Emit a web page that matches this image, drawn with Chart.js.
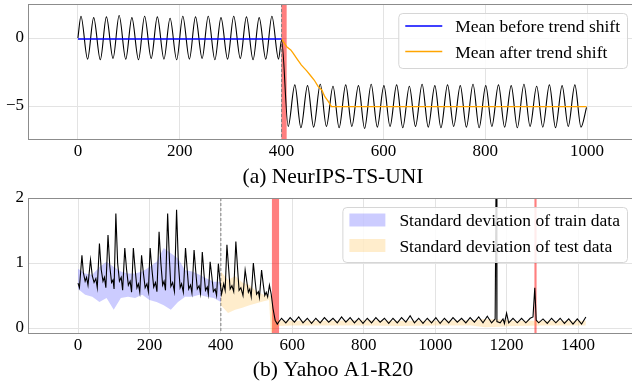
<!DOCTYPE html>
<html>
<head>
<meta charset="utf-8">
<script src="https://cdn.jsdelivr.net/npm/chart.js@4.4.0/dist/chart.umd.min.js"></script>
<style>
  body { margin: 0; background: #fff; width: 632px; height: 391px; overflow: hidden; position: relative; }
  canvas { position: absolute; left: 0; }
  #chartA { top: 0; }
  #chartB { top: 180px; }
</style>
</head>
<body>
<canvas id="chartA" width="640" height="195"></canvas>
<canvas id="chartB" width="640" height="211"></canvas>
<script>
// ---- (a) NeurIPS-TS-UNI ----
const xTicksA = [0, 200, 400, 600, 800, 1000];
const yTicksA = [-5, 0];
const timeA = [0, 6, 19, 31, 44, 56, 69, 81, 94, 106, 119, 131, 144, 156, 169, 181, 194, 206, 219, 231, 244, 256, 269, 281, 294, 306, 319, 331, 344, 356, 369, 381, 394, 400,
  413, 426, 438, 451, 463, 476, 488, 501, 513, 526, 538, 551, 563, 576, 588, 601, 613, 626, 638, 651, 663, 676, 688, 701, 713, 726, 738, 751,
  763, 776, 788, 801, 813, 826, 838, 851, 863, 876, 888, 901, 913, 926, 938, 951, 963, 976, 988, 999];
const valueA = [0, 1.6, -1.55, 1.5, -1.6, 1.55, -1.5, 1.65, -1.55, 1.5, -1.6, 1.6, -1.5, 1.55, -1.55, 1.45, -1.6,
  1.6, -1.55, 1.55, -1.5, 1.6, -1.6, 1.5, -1.55, 1.6, -1.5, 1.55, -1.6, 1.5, -1.55, 1.6, -1.55, -0.15,
  -6.5, -3.45, -6.6, -3.5, -6.55, -3.4, -6.5, -3.55, -6.6, -3.45, -6.5, -3.5, -6.65, -3.4, -6.55, -3.5,
  -6.5, -3.45, -6.6, -3.55, -6.5, -3.4, -6.55, -3.5, -6.6, -3.45, -6.5, -3.5, -6.55, -3.4, -6.6, -3.5,
  -6.5, -3.45, -6.55, -3.5, -6.6, -3.4, -6.5, -3.55, -6.55, -3.45, -6.6, -3.5, -6.5, -3.45, -6.55, -5.1];
const meanBeforeTime = [0, 400];
const meanBeforeValue = [-0.07, -0.07];
const meanAfterTime = [400, 410, 418, 423, 431, 439, 449, 456, 464, 472, 479, 485, 492, 498, 999];
const meanAfterValue = [-0.07, -0.64, -0.88, -1.13, -1.57, -1.99, -2.4, -2.72, -3.09, -3.58, -3.82, -4.32, -4.68, -5.05, -5.05];
const anomalyA = [[400, 410]];
const splitA = 400;

// ---- (b) Yahoo A1-R20 ----
const xTicksB = [0, 200, 400, 600, 800, 1000, 1200, 1400];
const yTicksB = [0, 1, 2];
const yahooSeries = [
  [0,0.69],[4,0.62],[11,1.12],[15,0.85],[20,0.72],[24,0.78],[28,0.66],[35,1.05],[40,0.8],[45,0.7],[50,0.76],[54,0.62],
  [60,1.3],[65,0.9],[70,0.72],[74,0.78],[78,0.62],[84,1.43],[89,0.95],[94,0.7],[98,0.74],[101,0.6],[106,1.76],[111,1.0],
  [116,0.72],[121,0.78],[125,0.58],[131,1.23],[136,0.9],[141,0.66],[146,0.72],[150,0.55],[155,1.23],[160,0.9],[165,0.62],
  [169,0.68],[173,0.55],[178,1.12],[183,0.85],[188,0.62],[193,0.68],[197,0.56],[202,1.23],[207,0.9],[212,0.63],[217,0.7],
  [221,0.56],[227,1.48],[232,1.0],[237,0.66],[241,0.72],[245,0.58],[251,1.76],[256,1.05],[260,0.64],[265,0.7],[270,0.56],
  [276,1.82],[281,1.0],[286,0.62],[290,0.68],[295,0.55],[301,1.23],[306,0.88],[310,0.6],[315,0.66],[319,0.54],[325,1.2],
  [330,0.85],[334,0.6],[339,0.65],[343,0.53],[348,1.17],[353,0.82],[357,0.58],[362,0.63],[365,0.52],[370,1.02],[375,0.78],
  [379,0.56],[384,0.6],[388,0.5],[393,0.99],[398,0.7],[402,0.52],[408,0.68],[412,0.58],[417,1.28],[422,0.9],[426,0.6],
  [431,0.65],[436,0.56],[442,1.33],[447,0.9],[451,0.58],[456,0.62],[462,0.5],[468,0.89],[473,0.7],[477,0.55],[481,0.6],
  [485,0.48],[491,1.0],[496,0.72],[500,0.52],[505,0.56],[508,0.47],[514,0.89],[519,0.66],[523,0.5],[527,0.55],[531,0.48],
  [536,0.66],[541,0.52],[546,0.3],[552,0.12],[558,0.06],[563,0.1],
  [570,0.15],[582,0.08],[594,0.16],[606,0.09],[618,0.17],[630,0.08],[642,0.15],[654,0.07],[666,0.15],[678,0.08],
  [690,0.16],[702,0.09],[714,0.15],[726,0.08],[738,0.17],[750,0.09],[762,0.16],[774,0.08],[786,0.15],[798,0.07],
  [810,0.15],[822,0.08],[834,0.16],[846,0.09],[858,0.15],[870,0.07],[882,0.15],[894,0.08],[906,0.16],[918,0.09],
  [930,0.19],[942,0.08],[954,0.15],[966,0.07],[978,0.15],[990,0.08],[1002,0.16],[1014,0.07],[1026,0.15],[1038,0.08],
  [1050,0.16],[1062,0.09],[1074,0.15],[1086,0.08],[1098,0.16],[1110,0.09],[1122,0.17],[1134,0.08],[1146,0.18],[1158,0.08],
  [1168,0.14],[1171,2.6],[1173,0.1],[1182,0.08],[1190,0.14],[1194,0.07],[1200,0.23],[1206,0.08],[1218,0.15],[1230,0.08],
  [1242,0.15],[1254,0.08],[1266,0.15],[1274,0.17],[1279,0.62],[1283,0.12],[1290,0.08],[1302,0.14],[1314,0.07],[1326,0.15],
  [1338,0.08],[1350,0.15],[1362,0.07],[1374,0.14],[1386,0.06],[1398,0.14],[1410,0.06],[1422,0.17]
];
const trainTime = [0, 20, 40, 60, 80, 100, 120, 140, 160, 180, 200, 220, 240, 260, 280, 300, 320, 340, 360, 380, 400];
const trainUpper = [0.91, 0.84, 0.82, 0.94, 1.02, 0.94, 0.87, 0.84, 0.84, 0.87, 0.94, 1.02, 1.23, 1.15, 1.07, 0.89, 0.87, 0.82, 0.76, 0.71, 0.71];
const trainLower = [0.6, 0.51, 0.48, 0.4, 0.46, 0.28, 0.46, 0.48, 0.46, 0.51, 0.43, 0.4, 0.35, 0.28, 0.4, 0.48, 0.48, 0.51, 0.48, 0.46, 0.4];
const testTime = [400, 420, 440, 460, 480, 500, 520, 535, 540, 548, 560, 600, 700, 800, 900, 1000, 1100, 1140, 1180, 1220, 1300, 1422];
const testUpper = [0.87, 0.74, 0.8, 0.7, 0.66, 0.56, 0.51, 0.5, 0.5, 0.15, 0.12, 0.11, 0.11, 0.12, 0.11, 0.11, 0.12, 0.14, 0.13, 0.11, 0.11, 0.11];
const testLower = [0.35, 0.23, 0.28, 0.31, 0.35, 0.38, 0.41, 0.43, -0.08, -0.05, 0.03, 0.04, 0.04, 0.04, 0.03, 0.04, 0.04, 0.01, 0.02, 0.03, 0.04, 0.04];
const anomalyB = [[543, 563], [1278, 1284]];
const splitB = 400;

const serif = '"Liberation Serif", "Times New Roman", serif';
Chart.defaults.font.family = serif;
Chart.defaults.color = '#000';

const pairs = (xs, ys) => xs.map((x, i) => ({ x: x, y: ys[i] }));

// red anomaly spans + dashed train/test split
const spans = {
  id: 'spans',
  beforeDatasetsDraw(chart, args, opts) {
    const { ctx, chartArea, scales } = chart;
    ctx.save();
    ctx.beginPath();
    ctx.rect(chartArea.left, chartArea.top, chartArea.width, chartArea.height);
    ctx.clip();
    ctx.fillStyle = 'rgba(255,0,0,0.5)';
    opts.bands.forEach(b => {
      const x0 = scales.x.getPixelForValue(b[0]);
      const x1 = scales.x.getPixelForValue(b[1]);
      ctx.fillRect(x0, chartArea.top, x1 - x0, chartArea.height);
    });
    const xs = scales.x.getPixelForValue(opts.split);
    ctx.strokeStyle = '#808080';
    ctx.lineWidth = 1;
    ctx.setLineDash([3, 2]);
    ctx.beginPath();
    ctx.moveTo(xs, chartArea.top);
    ctx.lineTo(xs, chartArea.bottom);
    ctx.stroke();
    ctx.restore();
  }
};

// axes frame + legend box in the upper right
const frameLegend = {
  id: 'frameLegend',
  afterDatasetsDraw(chart, args, opts) {
    const { ctx, chartArea } = chart;
    ctx.save();
    ctx.strokeStyle = '#8c8c8c';
    ctx.lineWidth = 1;
    ctx.strokeRect(chartArea.left + 0.5, chartArea.top + 0.5, chartArea.width - 1, chartArea.height - 1);

    const items = chart.data.datasets.filter(d => d.legendKind);
    ctx.font = '17.5px ' + serif;
    const textW = Math.max(...items.map(d => ctx.measureText(d.label).width));
    const w = 7 + 37 + 13 + textW + 7;
    const right = chartArea.right - 11;
    const left = right - w;
    const top = chartArea.top + 9;
    const h = 55;
    ctx.beginPath();
    ctx.roundRect(left + 0.5, top + 0.5, w, h, 4);
    ctx.fillStyle = 'rgba(255,255,255,0.85)';
    ctx.fill();
    ctx.strokeStyle = '#d6d6d6';
    ctx.stroke();
    items.forEach((d, i) => {
      const cy = top + 13 + i * 25.5;
      if (d.legendKind === 'line') {
        ctx.strokeStyle = d.borderColor;
        ctx.lineWidth = 1.5;
        ctx.beginPath();
        ctx.moveTo(left + 7, cy);
        ctx.lineTo(left + 44, cy);
        ctx.stroke();
      } else {
        ctx.fillStyle = d.backgroundColor;
        ctx.fillRect(left + 7, cy - 6.5, 36, 13);
      }
      ctx.fillStyle = '#000';
      ctx.textBaseline = 'middle';
      ctx.fillText(d.label, left + 57, cy + 1.5);
    });
    ctx.restore();
  }
};

function axisOptions(xmin, xmax, xTicks, ymin, ymax, yTicks, caption, xHeight, captionPad) {
  return {
    x: {
      type: 'linear', min: xmin, max: xmax,
      afterBuildTicks: s => { s.ticks = xTicks.map(v => ({ value: v })); },
      afterFit: s => { s.height = xHeight; },
      grid: { color: '#e3e3e3', lineWidth: 1, drawTicks: false },
      border: { display: false },
      ticks: { font: { size: 17 }, padding: 1, maxRotation: 0, callback: v => String(v) },
      title: { display: true, text: caption, font: { size: 21.5 }, padding: { top: 0, bottom: captionPad } }
    },
    y: {
      min: ymin, max: ymax,
      afterBuildTicks: s => { s.ticks = yTicks.map(v => ({ value: v })); },
      afterFit: s => { s.width = 28; s.paddingTop = 0; s.paddingBottom = 0; },
      grid: { color: '#e3e3e3', lineWidth: 1, drawTicks: false },
      border: { display: false },
      ticks: { font: { size: 17 }, padding: 4, callback: v => String(v).replace('-', '\u2212') }
    }
  };
}

new Chart(document.getElementById('chartA'), {
  type: 'line',
  data: {
    datasets: [
      { label: 'Mean before trend shift', legendKind: 'line', data: pairs(meanBeforeTime, meanBeforeValue), borderColor: '#0000ff', borderWidth: 1.5 },
      { label: 'Mean after trend shift', legendKind: 'line', data: pairs(meanAfterTime, meanAfterValue), borderColor: '#ffa500', borderWidth: 1.3 },
      { label: 'series', data: pairs(timeA, valueA), borderColor: '#000', borderWidth: 1.1, cubicInterpolationMode: 'monotone' }
    ]
  },
  options: {
    responsive: false, animation: false, devicePixelRatio: 1,
    elements: { point: { radius: 0 }, line: { tension: 0 } },
    layout: { padding: { top: 4, left: 0, right: 2, bottom: 0 } },
    plugins: { legend: { display: false }, tooltip: { enabled: false }, spans: { bands: anomalyA, split: splitA } },
    scales: axisOptions(-98, 1100, xTicksA, -7.5, 2.5, yTicksA, '(a) NeurIPS-TS-UNI', 55, 4.5)
  },
  plugins: [spans, frameLegend]
});

new Chart(document.getElementById('chartB'), {
  type: 'line',
  data: {
    datasets: [
      { label: 'series', data: yahooSeries.map(p => ({ x: p[0], y: p[1] })), borderColor: '#000', borderWidth: 1.1 },
      { label: 'Standard deviation of train data', legendKind: 'patch', data: pairs(trainTime, trainUpper), borderWidth: 0, backgroundColor: 'rgba(0,0,255,0.2)', fill: '+1' },
      { label: 'train lower', data: pairs(trainTime, trainLower), borderWidth: 0, fill: false },
      { label: 'Standard deviation of test data', legendKind: 'patch', data: pairs(testTime, testUpper), borderWidth: 0, backgroundColor: 'rgba(255,165,0,0.2)', fill: '+1' },
      { label: 'test lower', data: pairs(testTime, testLower), borderWidth: 0, fill: false }
    ]
  },
  options: {
    responsive: false, animation: false, devicePixelRatio: 1,
    elements: { point: { radius: 0 }, line: { tension: 0 } },
    layout: { padding: { top: 18, left: 0, right: 2, bottom: 0 } },
    plugins: { legend: { display: false }, tooltip: { enabled: false }, spans: { bands: anomalyB, split: splitB } },
    scales: axisOptions(-140, 1568, xTicksB, -0.092, 2.0, yTicksB, '(b) Yahoo A1-R20', 57, 8)
  },
  plugins: [spans, frameLegend]
});
</script>
</body>
</html>
